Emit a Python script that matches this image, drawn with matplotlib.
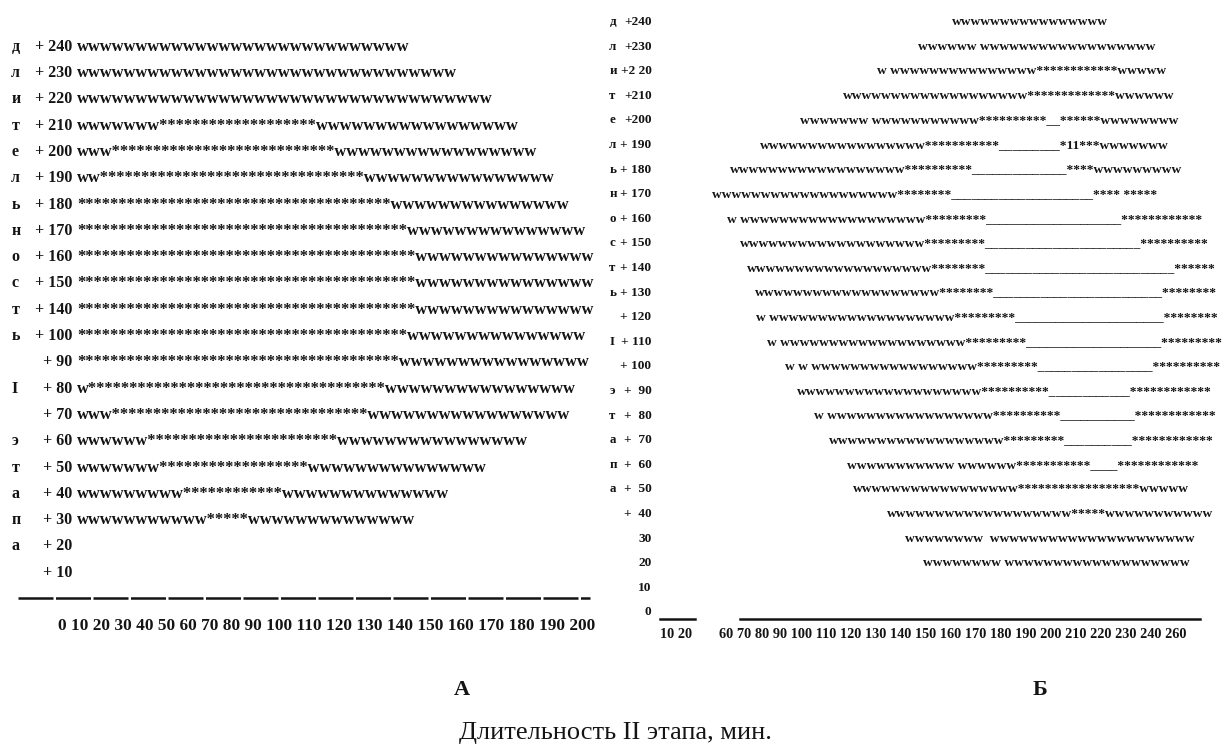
import matplotlib
matplotlib.use('Agg')
import matplotlib.pyplot as plt

plt.rcParams['font.family'] = ['Liberation Serif', 'DejaVu Serif']
INK = '#141414'

# ---- panel A: rows of the typed histogram (w = no event, * = event)
a_values = [240, 230, 220, 210, 200, 190, 180, 170, 160, 150, 140,
            100, 90, 80, 70, 60, 50, 40, 30, 20, 10]
a_letters = ['д', 'л', 'и', 'т', 'е', 'л', 'ь', 'н', 'о', 'с', 'т',
             'ь', '', 'I', '', 'э', 'т', 'а', 'п', 'а', '']
a_w_left = [28, 32, 35, 7, 3, 2, 0, 0, 0, 0, 0, 0, 0, 1, 3, 6, 7, 9, 11, 0, 0]
a_stars = [0, 0, 0, 19, 27, 32, 38, 40, 41, 41, 41, 40, 39, 36, 31, 23, 18, 12, 5, 0, 0]
a_w_right = [0, 0, 0, 17, 17, 16, 15, 15, 15, 15, 15, 15, 16, 16, 17, 16, 15, 14, 14, 0, 0]
a_start = 5.8
a_ticks = list(range(0, 201, 10))

# ---- panel B
b_values = list(range(240, -1, -10))
b_letters = ['д', 'л', 'и', 'т', 'е', 'л', 'ь', 'н', 'о', 'с', 'т', 'ь', '',
             'I', '', 'э', 'т', 'а', 'п', 'а', '', '', '', '', '']
b_tags = ['+240', '+230', '+2 20', '+210', '+200', '+ 190', '+ 180', '+ 170',
          '+ 160', '+ 150', '+ 140', '+ 130', '+ 120', '+ 110', '+ 100',
          '+  90', '+  80', '+  70', '+  60', '+  50', '+  40', '30', '20', '10', '0']
b_start = [154, 140, 123, 109, 91, 74.5, 62, 54.5, 61, 66, 69, 72.5, 73,
           77.5, 85, 90, 97, 103, 110.5, 113, 127, 134.5, 142, None, None]
b_runs = [
    [('w', 16)],
    [('w', 6), (' ', 1), ('w', 18)],
    [('w', 1), (' ', 1), ('w', 15), ('*', 12), ('w', 5)],
    [('w', 19), ('*', 13), ('w', 6)],
    [('w', 7), (' ', 1), ('w', 11), ('*', 10), ('_', 2), ('*', 6), ('w', 8)],
    [('w', 17), ('*', 11), ('_', 9), ('*', 1), ('1', 2), ('*', 3), ('w', 7)],
    [('w', 18), ('*', 10), ('_', 14), ('*', 4), ('w', 9)],
    [('w', 19), ('*', 8), ('_', 21), ('*', 4), (' ', 1), ('*', 5)],
    [('w', 1), (' ', 1), ('w', 19), ('*', 9), ('_', 20), ('*', 12)],
    [('w', 19), ('*', 9), ('_', 23), ('*', 10)],
    [('w', 19), ('*', 8), ('_', 28), ('*', 6)],
    [('w', 19), ('*', 8), ('_', 25), ('*', 8)],
    [('w', 1), (' ', 1), ('w', 19), ('*', 9), ('_', 22), ('*', 8)],
    [('w', 1), (' ', 1), ('w', 19), ('*', 9), ('_', 20), ('*', 9)],
    [('w', 1), (' ', 1), ('w', 1), (' ', 1), ('w', 17), ('*', 9), ('_', 17), ('*', 10)],
    [('w', 19), ('*', 10), ('_', 12), ('*', 12)],
    [('w', 1), (' ', 1), ('w', 17), ('*', 10), ('_', 11), ('*', 12)],
    [('w', 18), ('*', 9), ('_', 10), ('*', 12)],
    [('w', 11), (' ', 1), ('w', 6), ('*', 11), ('_', 4), ('*', 12)],
    [('w', 17), ('*', 18), ('w', 5)],
    [('w', 19), ('*', 5), ('w', 11)],
    [('w', 8), (' ', 2), ('w', 21)],
    [('w', 8), (' ', 1), ('w', 19)],
    [],
    [],
]
b_ticks_short = [10, 20]
b_ticks_long = [60, 70, 80, 90, 100, 110, 120, 130, 140, 150, 160, 170,
                180, 190, 200, 210, 220, 230, 240, 260]

fig = plt.figure(figsize=(12.28, 7.49), dpi=100)

# A: x in minutes, y in row index (row 0 on top)
ax_a = fig.add_axes([0, 0, 1, 1])
ax_a.set_xlim(-62 / 2.6, (1228 - 62) / 2.6)
ax_a.set_ylim((749 - 45) / 26.3, -45 / 26.3)
ax_a.axis('off')

for i, v in enumerate(a_values):
    y = i + 0.22
    ax_a.text(-19.5, y, a_letters[i], fontsize=11.5, fontweight='bold', color=INK, va='baseline')
    ax_a.text(3.8, y, f'+ {v}', fontsize=11.5, fontweight='bold', color=INK, va='baseline', ha='right')
    bar = 'w' * a_w_left[i] + '*' * a_stars[i] + 'w' * a_w_right[i]
    if bar:
        ax_a.text(a_start, y, bar, fontsize=11.9, fontweight='bold', color=INK, va='baseline')

base_a = (598 - 45) / 26.3
ax_a.plot([-16.9, 203], [base_a, base_a], color=INK, lw=1.8, dashes=(14, 1))
ax_a.text(-1.5, (626 - 45) / 26.3, ' '.join(str(t) for t in a_ticks),
          fontsize=12.4, fontweight='bold', color=INK, va='center')

# B
ax_b = fig.add_axes([0, 0, 1, 1])
ax_b.set_xlim(60 - 725 / 2.41, 60 + (1228 - 725) / 2.41)
ax_b.set_ylim((749 - 20) / 24.6, -20 / 24.6)
ax_b.axis('off')
ax_b.patch.set_visible(False)

for i, v in enumerate(b_values):
    y = i + 0.2
    ax_b.text(12.0, y, b_letters[i], fontsize=9.4, fontweight='bold', color=INK, va='baseline')
    ax_b.text(29.5, y, b_tags[i], fontsize=9.6, fontweight='bold', color=INK, va='baseline', ha='right')
    bar = ''.join(ch * n for ch, n in b_runs[i])
    if bar:
        ax_b.text(b_start[i], y, bar, fontsize=9.7, fontweight='bold', color=INK, va='baseline')

base_b = (619 - 20) / 24.6
ax_b.plot([33.0, 47.5], [base_b, base_b], color=INK, lw=1.8)
ax_b.plot([66.2, 257], [base_b, base_b], color=INK, lw=1.8)
tick_y = (634 - 20) / 24.6
ax_b.text(33.0, tick_y, ' '.join(str(t) for t in b_ticks_short),
          fontsize=10.3, fontweight='bold', color=INK, va='center')
ax_b.text(57.5, tick_y, ' '.join(str(t) for t in b_ticks_long),
          fontsize=10.3, fontweight='bold', color=INK, va='center')

fig.text(462 / 1228, 1 - 690 / 749, 'А', fontsize=16, fontweight='bold', ha='center', va='center', color=INK)
fig.text(1040 / 1228, 1 - 690 / 749, 'Б', fontsize=16, fontweight='bold', ha='center', va='center', color=INK)
fig.text(615 / 1228, 1 - 733 / 749, 'Длительность II этапа, мин.', fontsize=19,
         ha='center', va='center', color=INK)

fig.savefig('out.png', dpi=100)
